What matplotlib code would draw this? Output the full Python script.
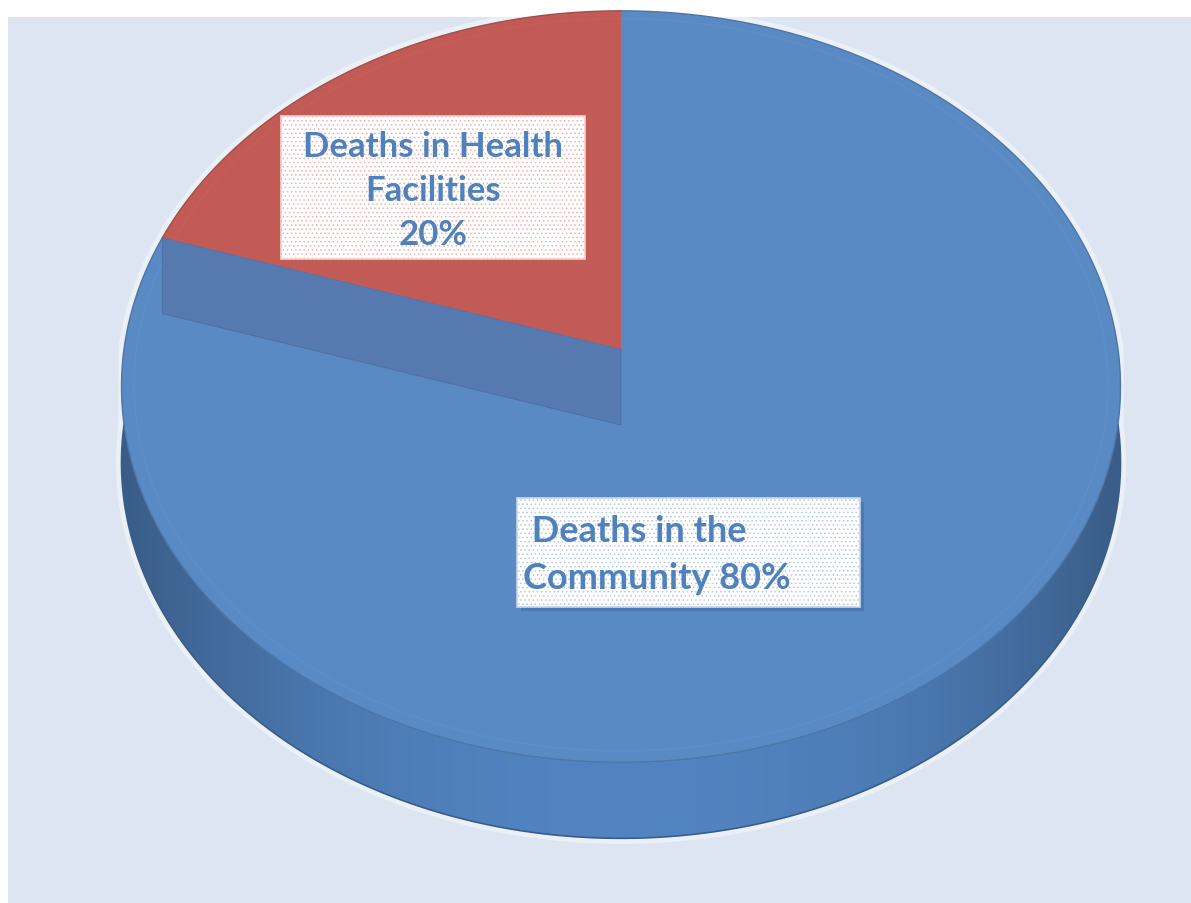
import numpy as np
import matplotlib.pyplot as plt
from matplotlib.patches import Rectangle, Polygon
from matplotlib.colors import to_rgb

# slice data (percent of deaths)
categories = ["Deaths in Health Facilities", "Deaths in the Community"]
shares = [20, 80]
labels = ["Deaths in Health\nFacilities\n20%", " Deaths in the\nCommunity 80%"]
slice_colors = ["#c25a56", "#5a8ac3"]
side_colors = ["#9c3f3c", "#5081bd"]

# geometry of the perspective pie (screen pixels)
CX, CY = 621, 350
A, B, K = 497, 372, 0.1
DEPTH = 76


def project(theta_deg, r=1.0):
    t = np.radians(theta_deg)
    u, v = r * np.cos(t), r * np.sin(t)
    w = 1 + K * v
    return CX + A * u / w, CY - B * v / w


def shade(color, f):
    return tuple(np.clip(np.array(to_rgb(color)) * f, 0, 1))


fig = plt.figure(figsize=(11.91, 9.04), dpi=100)
fig.patch.set_facecolor("white")
ax = fig.add_axes([0, 0, 1, 1])
ax.set_xlim(0, 1191)
ax.set_ylim(904, 0)
ax.axis("off")

# chart area background
ax.add_patch(Rectangle((8, 18), 1183, 886, facecolor="#dce5f1", edgecolor="none", zorder=0))

# slice angles, starting at 12 o'clock going counter-clockwise
bounds = 90 + 360 * np.cumsum([0] + shares) / sum(shares)

# soft halo around the pie
th = np.linspace(0, 360, 400)
hx, hy = project(th)
hy = np.where(np.sin(np.radians(th)) < 0, hy + DEPTH, hy)
ax.fill(hx, hy, facecolor="none", edgecolor="white", lw=8, alpha=0.45, zorder=1)

# side wall of the front half, shaded left to right
for i in range(len(shares)):
    a0, a1 = max(bounds[i], 180), min(bounds[i + 1], 360)
    if a1 <= a0:
        continue
    steps = np.linspace(a0, a1, 300)
    sx, sy = project(steps)
    pts = list(zip(sx, sy)) + list(zip(sx[::-1], sy[::-1] + DEPTH))
    side = Polygon(pts, closed=True, facecolor="none", edgecolor="none", zorder=2)
    ax.add_patch(side)
    xs = np.linspace(sx.min(), sx.max(), 400)
    pos = (xs - CX) / A
    f = 0.72 + 0.3 * np.clip(1 - np.abs(pos) ** 2.2, 0, 1)
    grad = np.array([shade(side_colors[i], v) for v in f])[None, :, :]
    im = ax.imshow(grad, extent=(sx.min(), sx.max(), sy.max() + DEPTH, sy.min()),
                   aspect="auto", interpolation="bilinear", zorder=2)
    im.set_clip_path(side)
    ax.plot(sx, sy + DEPTH, color=shade(side_colors[i], 0.72), lw=1.2, zorder=2.1)

# top faces
for i in range(len(shares)):
    steps = np.linspace(bounds[i], bounds[i + 1], 200)
    rx, ry = project(steps)
    pts = [(CX, CY)] + list(zip(rx, ry))
    z = 3 if i == 1 else 5
    ax.add_patch(Polygon(pts, closed=True, facecolor=slice_colors[i], edgecolor="none", zorder=z))
    # bevel highlight
    ix, iy = project(steps, 0.975)
    ax.plot(ix, iy, color=shade(slice_colors[i], 1.06), lw=1.0, alpha=0.6, zorder=z + 0.1)
    ax.plot(rx, ry, color=shade(slice_colors[i], 0.85), lw=1.0, zorder=z + 0.1)

# cut face of the big slice at the boundary
ex, ey = project(bounds[1])
ax.add_patch(Polygon([(CX, CY), (ex, ey), (ex, ey + DEPTH), (CX, CY + DEPTH)],
                     closed=True, facecolor="#5679b0", edgecolor="#4f71a6", lw=0.8, zorder=4))

# data labels
plt.rcParams["hatch.linewidth"] = 0.6
box_specs = [
    dict(rect=(281, 117, 304, 143), hatch_col="#eab3b1", edge="#f3d0cf"),
    dict(rect=(517, 499, 343, 109), hatch_col="#b5c8e2", edge="#c8d6ea"),
]
for i, spec in enumerate(box_specs):
    x, y, w, h = spec["rect"]
    if i == 1:
        ax.add_patch(Rectangle((x + 4, y + 4), w, h, facecolor="#3f6aa3", alpha=0.5,
                               edgecolor="none", zorder=6))
    ax.add_patch(Rectangle((x, y), w, h, facecolor="white", edgecolor="none", zorder=6.5))
    ax.add_patch(Rectangle((x, y), w, h, facecolor="none", edgecolor=spec["hatch_col"],
                           hatch="....", lw=0, zorder=6.6))
    ax.add_patch(Rectangle((x, y), w, h, facecolor="none", edgecolor=spec["edge"],
                           lw=1.2, zorder=6.7))

ax.text(433, 191, labels[0], ha="center", va="center", multialignment="center",
        fontsize=25, fontweight="bold", family="Lato", color="#4f81bd",
        linespacing=1.48, zorder=7)
ax.text(523, 555, labels[1], ha="left", va="center", multialignment="left",
        fontsize=26, fontweight="bold", family="Lato", color="#4f81bd",
        linespacing=1.54, zorder=7)

fig.savefig("out.png", dpi=100, facecolor=fig.get_facecolor())
